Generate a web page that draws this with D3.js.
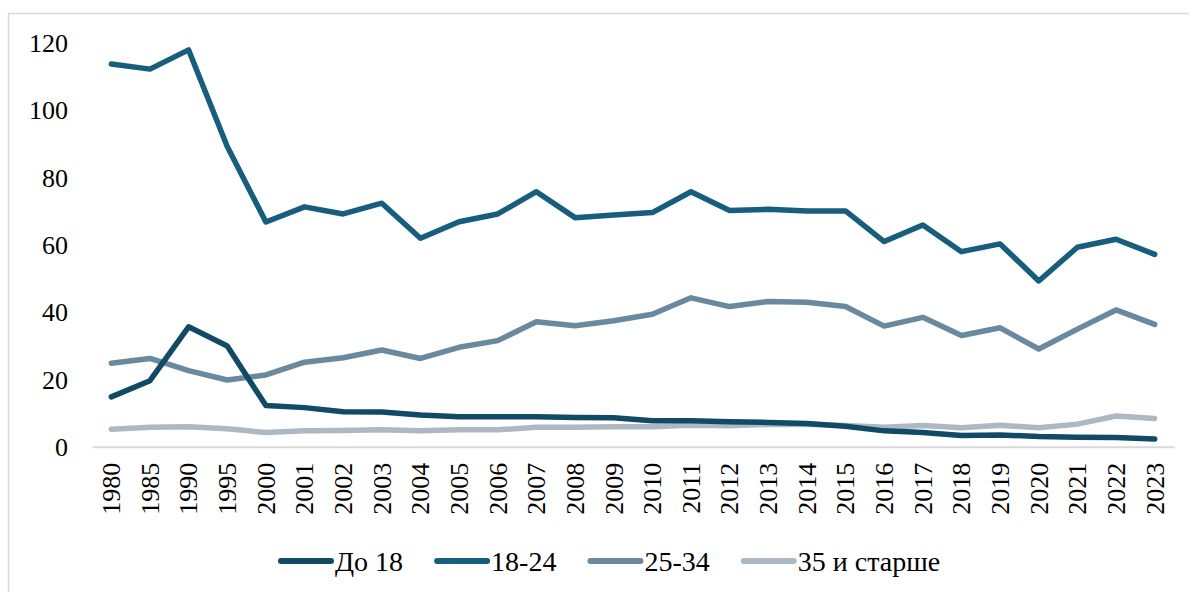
<!DOCTYPE html>
<html>
<head>
<meta charset="utf-8">
<script src="https://cdn.jsdelivr.net/npm/d3@7/dist/d3.min.js"></script>
<style>
	body { margin: 0; background: #fff; }
	svg text { font-family: "Liberation Serif", "Times New Roman", serif; fill: #000; }
</style>
</head>
<body>
<div id="chart"></div>
<script>

var years = ["1980","1985","1990","1995","2000","2001","2002","2003","2004","2005","2006","2007","2008","2009",
	"2010","2011","2012","2013","2014","2015","2016","2017","2018","2019","2020","2021","2022","2023"];

var under18 = [14.8,19.6,35.6,29.9,12.2,11.6,10.4,10.3,9.4,8.9,8.9,8.9,8.7,8.6,
	7.7,7.7,7.4,7.2,6.9,6.1,4.7,4.2,3.3,3.5,3.0,2.8,2.7,2.3];

var age18to24 = [113.6,112.1,117.8,89.1,66.7,71.2,69.1,72.3,61.9,66.8,69.1,75.7,68.0,68.8,
	69.5,75.7,70.1,70.5,70.0,70.0,60.9,65.8,57.9,60.2,49.2,59.2,61.6,57.1];

var age25to34 = [24.8,26.2,22.6,19.8,21.3,25.1,26.4,28.7,26.2,29.5,31.5,37.1,35.9,37.4,
	39.3,44.2,41.6,43.1,42.9,41.6,35.8,38.4,33.0,35.3,29.0,34.9,40.6,36.3];

var age35plus = [5.2,5.8,5.9,5.3,4.2,4.7,4.8,5.0,4.7,5.0,5.0,5.8,5.8,5.9,
	5.9,6.4,6.2,6.6,6.7,6.3,5.8,6.3,5.6,6.4,5.6,6.7,9.1,8.4];

var seriesNames = ["До 18", "18-24", "25-34", "35 и старше"];
var yTicks = [0, 20, 40, 60, 80, 100, 120];

var width = 1189, height = 592;
var colors = ["#104a65", "#175d7e", "#6a889e", "#adb8c4"];
var series = [under18, age18to24, age25to34, age35plus];
var serif = "'Liberation Serif', 'Times New Roman', serif";

var svg = d3.select("#chart").append("svg")
	.attr("width", width)
	.attr("height", height);

// outer frame of the chart area (right / bottom edges are off the picture)
svg.append("rect")
	.attr("x", 8.5).attr("y", 13.5)
	.attr("width", width).attr("height", height)
	.style("fill", "#fff")
	.style("stroke", "#d9d9d9")
	.style("stroke-width", "1.5px");

var x = d3.scaleBand()
	.domain(years)
	.range([92, 1174])
	.padding(0);

var y = d3.scaleLinear()
	.domain([0, 120])
	.range([446.7, 42.5]);

function xc(d) { return x(d) + x.bandwidth() / 2; }

// y axis labels (no axis line, no gridlines)
var yAxis = d3.axisLeft(y).tickValues(yTicks).tickSize(0).tickPadding(0);
var gy = svg.append("g")
	.attr("transform", "translate(68,0)")
	.call(yAxis)
	.attr("font-family", serif)
	.attr("font-size", 26);
gy.select(".domain").remove();
gy.selectAll("text")
	.attr("dy", "0.34em");

// x axis
var xAxis = d3.axisBottom(x).tickSize(0).tickPadding(0);
var gx = svg.append("g")
	.attr("transform", "translate(0,446.7)")
	.call(xAxis)
	.attr("font-family", serif)
	.attr("font-size", 26);
gx.select(".domain")
	.style("stroke", "#d9d9d9")
	.style("stroke-width", "2px");
gx.selectAll("text")
	.attr("transform", "rotate(-90)")
	.attr("x", -16)
	.attr("y", 0)
	.attr("dy", "0.34em")
	.attr("text-anchor", "end");

var line = d3.line()
	.x(function(d, i) { return xc(years[i]); })
	.y(function(d) { return y(d); });

// draw order: lightest at the back
[3, 2, 1, 0].forEach(function(k) {
	svg.append("path")
		.datum(series[k])
		.attr("d", line)
		.style("fill", "none")
		.style("stroke", colors[k])
		.style("stroke-width", "5.5px")
		.style("stroke-linejoin", "round")
		.style("stroke-linecap", "round");
});

// legend
var legend = svg.append("g").attr("class", "legend");
var lx = 278, ly = 561;
seriesNames.forEach(function(name, k) {
	legend.append("line")
		.attr("x1", lx + 3).attr("x2", lx + 53)
		.attr("y1", ly).attr("y2", ly)
		.style("stroke", colors[k])
		.style("stroke-width", "6px")
		.style("stroke-linecap", "round");
	var t = legend.append("text")
		.attr("x", lx + 57)
		.attr("y", ly)
		.attr("dy", "0.34em")
		.style("font-size", "28px")
		.text(name);
	lx += 57 + t.node().getComputedTextLength() + 31;
});

</script>
</body>
</html>
